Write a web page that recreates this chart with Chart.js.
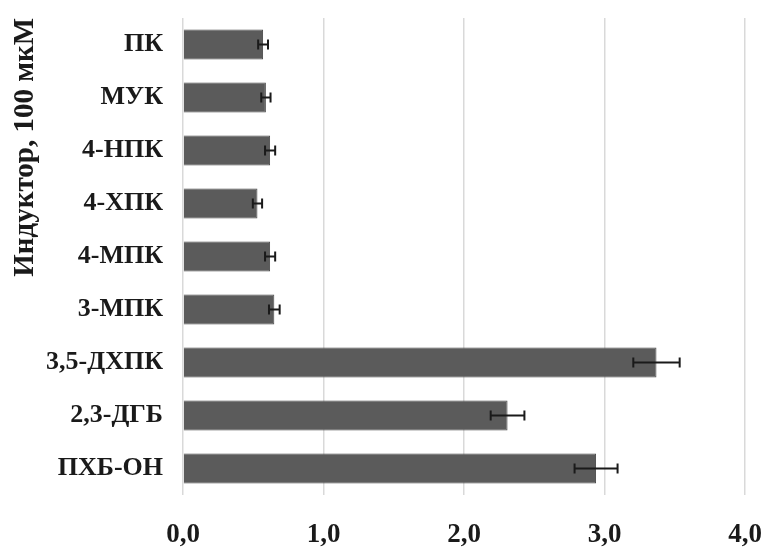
<!DOCTYPE html>
<html>
<head>
<meta charset="utf-8">
<script src="https://cdn.jsdelivr.net/npm/chart.js@4/dist/chart.umd.min.js"></script>
<style>
  html, body { margin: 0; padding: 0; background: #fff; }
  #wrap { width: 765px; height: 548px; }
</style>
</head>
<body>
<div id="wrap"><canvas id="chart"></canvas></div>
<script>
// inducers, top to bottom
const categories = ['ПК', 'МУК', '4-НПК', '4-ХПК', '4-МПК', '3-МПК', '3,5-ДХПК', '2,3-ДГБ', 'ПХБ-ОН'];
const values = [0.57, 0.59, 0.62, 0.53, 0.62, 0.65, 3.37, 2.31, 2.94];
const errors = [0.035, 0.033, 0.036, 0.033, 0.036, 0.038, 0.165, 0.12, 0.153];
const xTicks = [0, 1, 2, 3, 4];

const FONT = '"Liberation Serif", "Times New Roman", serif';

// draws the +/- error whiskers on top of the bars
const errorBars = {
  id: 'errorBars',
  afterDatasetsDraw(chart) {
    const ctx = chart.ctx;
    const x = chart.scales.x;
    const meta = chart.getDatasetMeta(0);
    ctx.save();
    ctx.strokeStyle = '#1a1a1a';
    ctx.lineWidth = 2;
    meta.data.forEach((bar, i) => {
      const lo = x.getPixelForValue(values[i] - errors[i]);
      const hi = x.getPixelForValue(values[i] + errors[i]);
      const y = bar.y;
      ctx.beginPath();
      ctx.moveTo(lo, y); ctx.lineTo(hi, y);
      ctx.moveTo(lo, y - 5); ctx.lineTo(lo, y + 5);
      ctx.moveTo(hi, y - 5); ctx.lineTo(hi, y + 5);
      ctx.stroke();
    });
    ctx.restore();
  }
};

new Chart(document.getElementById('chart'), {
  type: 'bar',
  data: {
    labels: categories,
    datasets: [{
      data: values,
      backgroundColor: '#5b5b5b',
      borderColor: '#4a4a4a',
      borderWidth: 1,
      categoryPercentage: 1,
      barPercentage: 0.57
    }]
  },
  options: {
    indexAxis: 'y',
    responsive: true,
    maintainAspectRatio: false,
    animation: false,
    layout: { padding: { top: 18, right: 0, left: 0, bottom: 0 } },
    plugins: { legend: { display: false }, tooltip: { enabled: false } },
    scales: {
      x: {
        min: 0,
        max: 4,
        afterBuildTicks: axis => { axis.ticks = xTicks.map(v => ({ value: v })); },
        grid: { color: '#d9d9d9', lineWidth: 1.5, drawTicks: false },
        border: { display: false },
        ticks: {
          padding: 24,
          color: '#1a1a1a',
          font: { family: FONT, size: 27, weight: 'bold' },
          callback: v => v.toFixed(1).replace('.', ',')
        },
        afterFit: axis => { axis.height = 53; axis.paddingRight = 20; }
      },
      y: {
        grid: { display: false, drawTicks: false },
        border: { display: false },
        ticks: {
          padding: 20,
          color: '#1a1a1a',
          font: { family: FONT, size: 26, weight: 'bold' }
        },
        title: {
          display: true,
          text: 'Индуктор, 100 мкМ',
          align: 'end',
          color: '#1a1a1a',
          font: { family: FONT, size: 29, weight: 'bold' },
          padding: { top: 8, bottom: 0 }
        },
        afterFit: axis => { axis.width = 183; axis.paddingTop = 0; axis.paddingBottom = 0; }
      }
    }
  },
  plugins: [errorBars]
});
</script>
</body>
</html>
